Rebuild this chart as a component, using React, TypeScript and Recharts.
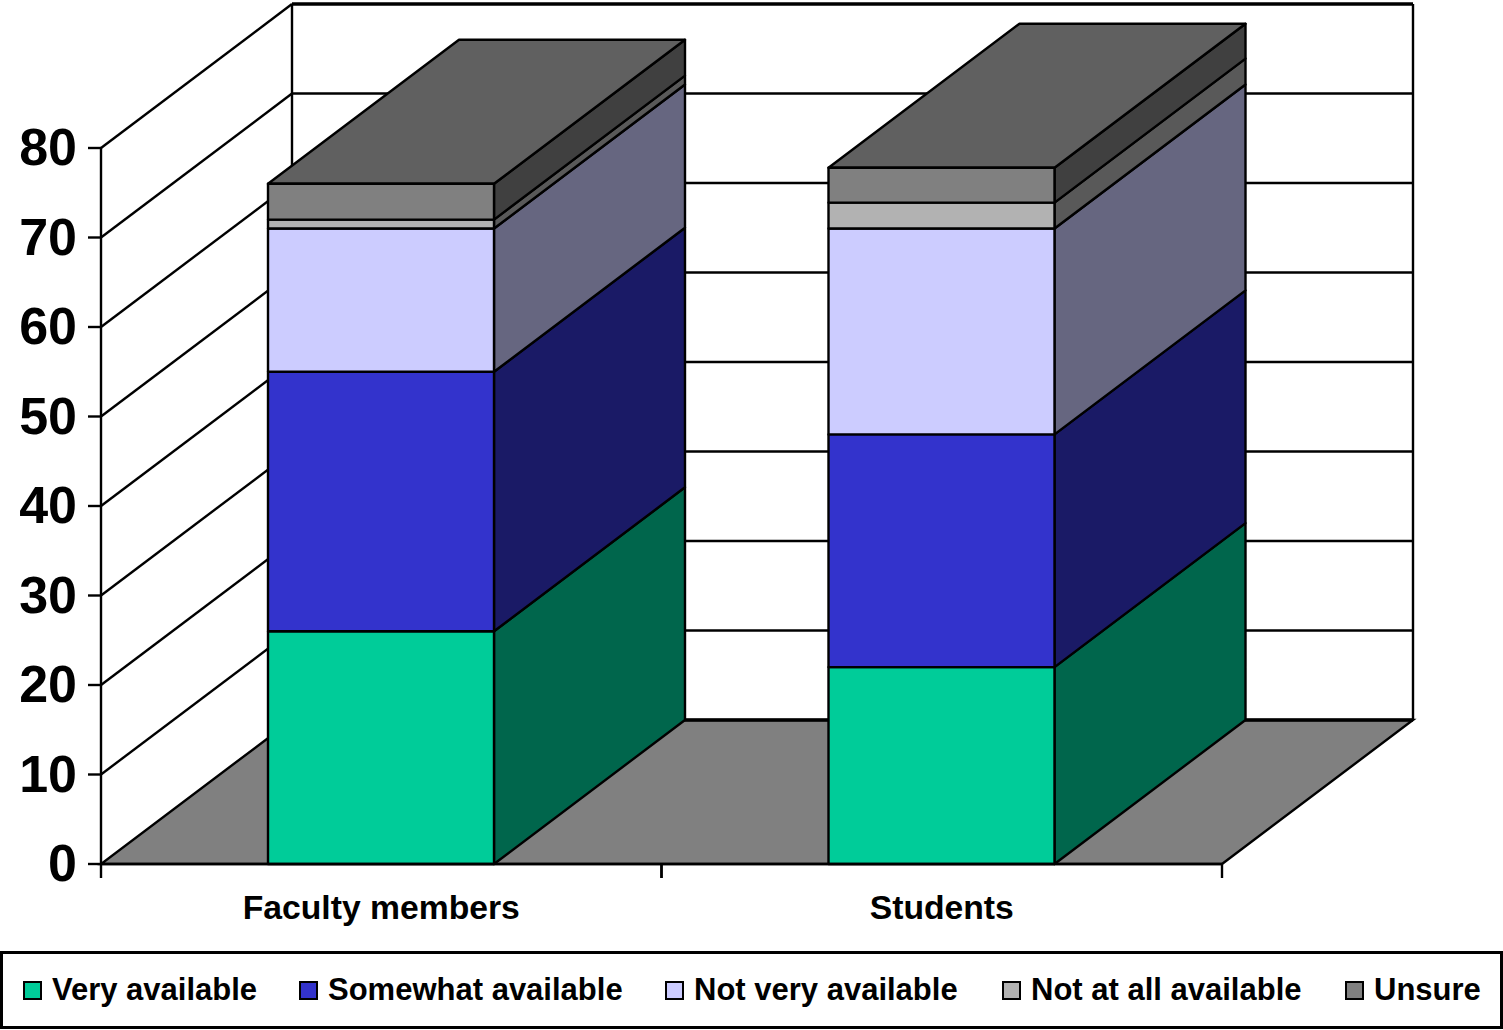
import React from "react";
import { BarChart, Bar, XAxis, YAxis, CartesianGrid, Legend } from "recharts";

// Survey responses, percent of each group
const groups = ["Faculty members", "Students"];
const veryAvailable = [26, 22];
const somewhatAvailable = [29, 26];
const notVeryAvailable = [16, 23];
const notAtAllAvailable = [1, 2.9];
const unsure = [4, 3.9];
const valueTicks = [0, 10, 20, 30, 40, 50, 60, 70, 80];

const rows = groups.map((group, i) => ({
  group,
  veryAvailable: veryAvailable[i],
  somewhatAvailable: somewhatAvailable[i],
  notVeryAvailable: notVeryAvailable[i],
  notAtAllAvailable: notAtAllAvailable[i],
  unsure: unsure[i],
}));

const FONT = '"Liberation Sans", Arial, sans-serif';
const INK = "#000000";
const LINE = 2.4;
const HEAVY = 3.6;

// Oblique projection offset of the chart's depth axis
const DEPTH_X = 191;
const DEPTH_Y = 144;

const poly = (pts: number[][]) => pts.map((p) => p.join(",")).join(" ");

// A stacked segment drawn as a box: front face, right face and optionally a lid
const boxShape = (front: string, side: string, lid?: string) => (props: any) => {
  const { x, y, width, height } = props;
  const r = x + width;
  const b = y + height;
  return (
    <g stroke={INK} strokeWidth={LINE} strokeLinejoin="round">
      <polygon
        fill={side}
        points={poly([
          [r, y],
          [r + DEPTH_X, y - DEPTH_Y],
          [r + DEPTH_X, b - DEPTH_Y],
          [r, b],
        ])}
      />
      {lid ? (
        <polygon
          fill={lid}
          points={poly([
            [x, y],
            [r, y],
            [r + DEPTH_X, y - DEPTH_Y],
            [x + DEPTH_X, y - DEPTH_Y],
          ])}
        />
      ) : null}
      <rect x={x} y={y} width={width} height={height} fill={front} />
    </g>
  );
};

// Each value gridline wraps round the left wall and the back wall;
// the zero line also lays down the floor, the top line closes the walls.
const gridLine = (props: any) => {
  const { x1, y1, x2, y, height, index } = props;
  const bottom = y + height;
  const isFloor = Math.abs(y1 - bottom) < 0.5;
  const isTop = Math.abs(y1 - y) < 0.5;
  const bx1 = x1 + DEPTH_X;
  const bx2 = x2 + DEPTH_X;
  const by = y1 - DEPTH_Y;
  return (
    <g key={`wall-${index}`} stroke={INK} strokeWidth={LINE}>
      {isFloor ? (
        <>
          <polygon
            fill="#808080"
            points={poly([
              [x1, y1],
              [x2, y1],
              [bx2, by],
              [bx1, by],
            ])}
          />
          <line x1={bx1} y1={by} x2={bx2} y2={by} strokeWidth={HEAVY} />
        </>
      ) : (
        <>
          <line x1={x1} y1={y1} x2={bx1} y2={by} />
          <line x1={bx1} y1={by} x2={bx2} y2={by} strokeWidth={isTop ? HEAVY : LINE} />
        </>
      )}
      {isTop ? (
        <>
          <line x1={bx1} y1={by} x2={bx1} y2={bottom - DEPTH_Y} />
          <line x1={bx2} y1={by} x2={bx2} y2={bottom - DEPTH_Y} />
        </>
      ) : null}
    </g>
  );
};

// Category label with tick marks on the band edges
const groupTick = (props: any) => {
  const { x, y, payload } = props;
  const half = payload.offset;
  return (
    <g>
      <line x1={x - half} y1={y} x2={x - half} y2={y + 14} stroke={INK} strokeWidth={LINE} />
      <line x1={x + half} y1={y} x2={x + half} y2={y + 14} stroke={INK} strokeWidth={LINE} />
      <text x={x} y={y + 55} textAnchor="middle" fontFamily={FONT} fontWeight={700} fontSize={33.7} fill={INK}>
        {payload.value}
      </text>
    </g>
  );
};

const valueTick = (props: any) => {
  const { x, y, payload } = props;
  return (
    <text x={x} y={y + 17} textAnchor="end" fontFamily={FONT} fontWeight={700} fontSize={52} fill={INK}>
      {payload.value}
    </text>
  );
};

const legendLefts = [23, 299, 665, 1002, 1345];

const legendBox = ({ payload }: any) => (
  <div
    style={{
      position: "relative",
      boxSizing: "border-box",
      width: 1503,
      height: 78,
      border: `3px solid ${INK}`,
      background: "#ffffff",
    }}
  >
    {(payload || []).map((entry: any, i: number) => (
      <div
        key={entry.value}
        style={{
          position: "absolute",
          left: legendLefts[i] - 3,
          top: 0,
          height: 72,
          display: "flex",
          alignItems: "center",
          whiteSpace: "nowrap",
        }}
      >
        <span
          style={{
            display: "inline-block",
            boxSizing: "border-box",
            width: 19,
            height: 19,
            marginRight: 10,
            background: entry.color,
            border: `2px solid ${INK}`,
          }}
        />
        <span style={{ fontFamily: FONT, fontWeight: 700, fontSize: 31, color: INK }}>{entry.value}</span>
      </div>
    ))}
  </div>
);

export default function App() {
  return (
    <div style={{ position: "absolute", left: 0, top: 0, width: 1503, height: 1030, background: "#ffffff" }}>
      <BarChart
        width={1503}
        height={1030}
        data={rows}
        barSize={226}
        margin={{ top: 148, right: 281, bottom: 0, left: 0 }}
      >
        <CartesianGrid vertical={false} horizontal={gridLine as any} stroke={INK} />
        <XAxis
          dataKey="group"
          height={88}
          tick={groupTick as any}
          tickLine={false}
          tickSize={0}
          tickMargin={0}
          axisLine={{ stroke: INK, strokeWidth: LINE }}
          interval={0}
        />
        <YAxis
          type="number"
          width={101}
          domain={[0, 80]}
          ticks={valueTicks}
          interval={0}
          tickSize={13}
          tickMargin={11}
          tickLine={{ stroke: INK, strokeWidth: LINE }}
          axisLine={{ stroke: INK, strokeWidth: LINE }}
          tick={valueTick as any}
        />
        <Legend
          verticalAlign="bottom"
          content={legendBox as any}
          itemSorter={null}
          wrapperStyle={{ left: 0, bottom: 1, width: 1503, height: 78 }}
        />
        <Bar dataKey="veryAvailable" name="Very available" stackId="share" fill="#00cc99" isAnimationActive={false} shape={boxShape("#00cc99", "#00664c") as any} />
        <Bar dataKey="somewhatAvailable" name="Somewhat available" stackId="share" fill="#3333cc" isAnimationActive={false} shape={boxShape("#3333cc", "#1a1a66") as any} />
        <Bar dataKey="notVeryAvailable" name="Not very available" stackId="share" fill="#ccccff" isAnimationActive={false} shape={boxShape("#ccccff", "#666680") as any} />
        <Bar dataKey="notAtAllAvailable" name="Not at all available" stackId="share" fill="#b2b2b2" isAnimationActive={false} shape={boxShape("#b2b2b2", "#595959") as any} />
        <Bar dataKey="unsure" name="Unsure" stackId="share" fill="#808080" isAnimationActive={false} shape={boxShape("#808080", "#404040", "#606060") as any} />
      </BarChart>
    </div>
  );
}
